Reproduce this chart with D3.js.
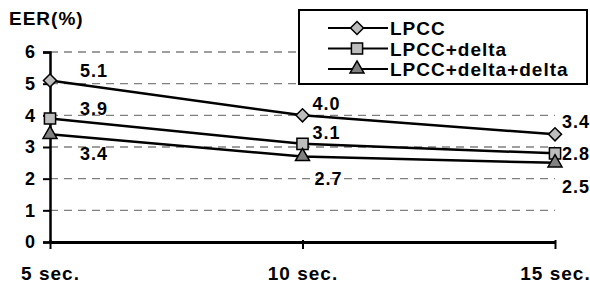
<!DOCTYPE html>
<html>
<head>
<meta charset="utf-8">
<script src="https://cdn.jsdelivr.net/npm/d3@7"></script>
<style>
  body { margin: 0; background: #fff; }
  svg text { font-family: "Liberation Sans", Arial, sans-serif; font-weight: bold; letter-spacing: 1px; }
</style>
</head>
<body>
<svg id="chart" width="590" height="286"></svg>
<script>
// data
const categories = ["5 sec.", "10 sec.", "15 sec."];
const seriesNames = ["LPCC", "LPCC+delta", "LPCC+delta+delta"];
const lpcc = [5.1, 4.0, 3.4];
const lpccDelta = [3.9, 3.1, 2.8];
const lpccDeltaDelta = [3.4, 2.7, 2.5];
const yTicks = [0, 1, 2, 3, 4, 5, 6];

const series = [
  { name: seriesNames[0], values: lpcc, shape: d3.symbolSquare, rot: 45, size: 85, fill: "#bdbdbd" },
  { name: seriesNames[1], values: lpccDelta, shape: d3.symbolSquare, rot: 0, size: 125, fill: "#bdbdbd" },
  { name: seriesNames[2], values: lpccDeltaDelta, shape: d3.symbolTriangle, rot: 0, size: 85, fill: "#808080" }
];

// label offsets (dx, dy) relative to the point, per series per category
const labelPos = [
  [[30, -4], [10, -5], [7, -6]],
  [[30, -4], [10, -5], [7, 7]],
  [[30, 26], [12, 28], [7, 30]]
];

const svg = d3.select("#chart");
const margin = { left: 50, right: 35, top: 52, bottom: 44 };
const width = 590 - margin.left - margin.right;
const height = 286 - margin.top - margin.bottom;

const g = svg.append("g").attr("transform", "translate(" + margin.left + "," + margin.top + ")");

const x = d3.scalePoint().domain(categories).range([0, width]);
const y = d3.scaleLinear().domain([0, 6]).range([height, 0]);

// gridlines
g.append("g")
  .selectAll("line")
  .data(yTicks.filter(d => d > 0))
  .enter()
  .append("line")
  .attr("x1", 0)
  .attr("x2", width)
  .attr("y1", d => y(d))
  .attr("y2", d => y(d))
  .attr("stroke", "#808080")
  .attr("stroke-width", 1.3)
  .attr("stroke-dasharray", "8,6");

// y axis
const yAxis = g.append("g")
  .call(d3.axisLeft(y).tickValues(yTicks).tickSize(7).tickPadding(7).tickFormat(d3.format("d")));
yAxis.select(".domain").attr("stroke", "#000").attr("stroke-width", 2.5);
yAxis.selectAll(".tick line").attr("stroke", "#000").attr("stroke-width", 2);
yAxis.selectAll(".tick text").attr("font-size", 18).attr("fill", "#000");

// x axis
const xAxis = g.append("g")
  .attr("transform", "translate(0," + height + ")")
  .call(d3.axisBottom(x).tickSize(7).tickSizeOuter(0).tickPadding(18));
xAxis.select(".domain").attr("stroke", "#000").attr("stroke-width", 3);
xAxis.selectAll(".tick line").attr("stroke", "#000").attr("stroke-width", 2).attr("y1", -2);
xAxis.selectAll(".tick text").attr("font-size", 19).attr("fill", "#000");

// axis title
svg.append("text")
  .attr("x", 9)
  .attr("y", 25)
  .attr("font-size", 19)
  .text("EER(%)");

const line = d3.line()
  .x((d, i) => x(categories[i]))
  .y(d => y(d));

series.forEach((s, si) => {
  g.append("path")
    .datum(s.values)
    .attr("fill", "none")
    .attr("stroke", "#000")
    .attr("stroke-width", 2.5)
    .attr("d", line);

  g.selectAll(".pt" + si)
    .data(s.values)
    .enter()
    .append("path")
    .attr("transform", (d, i) => "translate(" + x(categories[i]) + "," + y(d) + ") rotate(" + s.rot + ")")
    .attr("d", d3.symbol().type(s.shape).size(s.size))
    .attr("fill", s.fill)
    .attr("stroke", "#000")
    .attr("stroke-width", 1.5);

  g.selectAll(".lb" + si)
    .data(s.values)
    .enter()
    .append("text")
    .attr("x", (d, i) => x(categories[i]) + labelPos[si][i][0])
    .attr("y", (d, i) => y(d) + labelPos[si][i][1])
    .attr("font-size", 18)
    .text(d => d3.format(".1f")(d));
});

// legend
const legend = svg.append("g");
legend.append("rect")
  .attr("x", 299)
  .attr("y", 10)
  .attr("width", 288)
  .attr("height", 74)
  .attr("fill", "#fff")
  .attr("stroke", "#000")
  .attr("stroke-width", 2);

series.forEach((s, i) => {
  const ly = 28 + i * 20.5;
  legend.append("line")
    .attr("x1", 328).attr("x2", 388)
    .attr("y1", ly).attr("y2", ly)
    .attr("stroke", "#000").attr("stroke-width", 2);
  legend.append("path")
    .attr("transform", "translate(357," + ly + ") rotate(" + s.rot + ")")
    .attr("d", d3.symbol().type(s.shape).size(s.size))
    .attr("fill", s.fill)
    .attr("stroke", "#000")
    .attr("stroke-width", 1.5);
  legend.append("text")
    .attr("x", 390)
    .attr("y", ly + 7)
    .attr("font-size", 19)
    .attr("letter-spacing", 1.3)
    .text(s.name);
});
</script>
</body>
</html>
